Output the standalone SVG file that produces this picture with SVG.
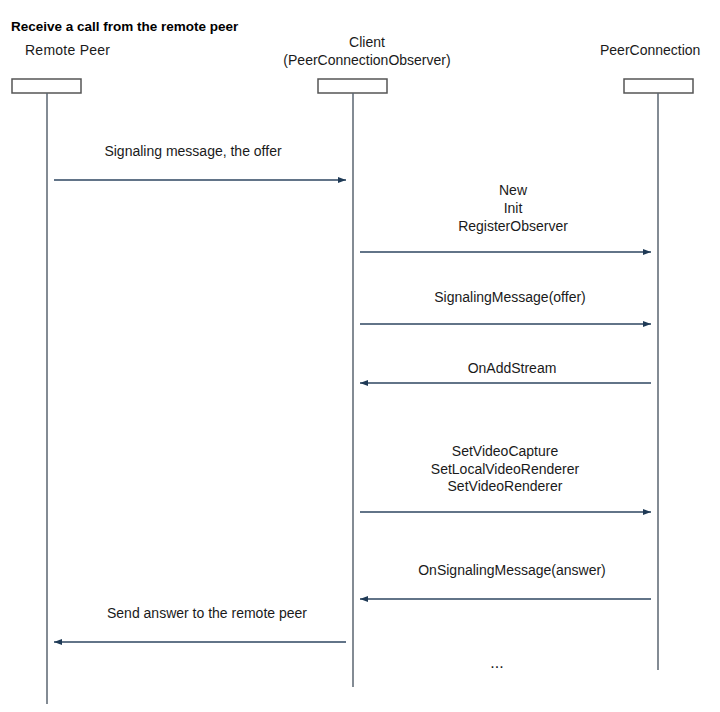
<svg xmlns="http://www.w3.org/2000/svg" width="720" height="712" viewBox="0 0 720 712">
<style>
text{font-family:"Liberation Sans",Arial,sans-serif;font-size:14px;fill:#1a1a1a}
.t{font-weight:bold;font-size:13.5px;fill:#000}
.m{text-anchor:middle}
.box{fill:#fff;stroke:#555;stroke-width:1.5}
.life{stroke:#5a6470;stroke-width:1.5}
.msg{stroke:#2e4660;stroke-width:1.3;fill:none}
</style>
<defs>
<marker id="ah" viewBox="0 0 8 6" refX="8" refY="3" markerWidth="8" markerHeight="6" markerUnits="userSpaceOnUse" orient="auto">
<path d="M0,0 L8,3 L0,6 z" fill="#1f3a56"/>
</marker>
</defs>
<rect width="720" height="712" fill="#fff"/>
<text class="t" x="11" y="31">Receive a call from the remote peer</text>
<g id="remote">
<text x="25" y="55" textLength="85">Remote Peer</text>
<rect class="box" x="12" y="79" width="69" height="14"/>
<line class="life" x1="47" y1="93" x2="47" y2="704"/>
</g>
<g id="client">
<text class="m" x="367" y="47">Client</text>
<text class="m" x="367" y="65">(PeerConnectionObserver)</text>
<rect class="box" x="318" y="79" width="69" height="14"/>
<line class="life" x1="353" y1="93" x2="353" y2="687"/>
</g>
<g id="pc">
<text x="600" y="55">PeerConnection</text>
<rect class="box" x="624" y="79" width="69" height="14"/>
<line class="life" x1="658" y1="93" x2="658" y2="670"/>
</g>
<g id="connectors">
<line class="msg" x1="54" y1="180" x2="346" y2="180" marker-end="url(#ah)"/>
<line class="msg" x1="360" y1="252" x2="651" y2="252" marker-end="url(#ah)"/>
<line class="msg" x1="360" y1="324" x2="651" y2="324" marker-end="url(#ah)"/>
<line class="msg" x1="651" y1="383" x2="360" y2="383" marker-end="url(#ah)"/>
<line class="msg" x1="360" y1="512" x2="651" y2="512" marker-end="url(#ah)"/>
<line class="msg" x1="651" y1="599" x2="360" y2="599" marker-end="url(#ah)"/>
<line class="msg" x1="346" y1="642" x2="54" y2="642" marker-end="url(#ah)"/>
</g>
<g id="labels">
<text class="m" x="193" y="156">Signaling message, the offer</text>
<text class="m" x="513" y="195">New</text>
<text class="m" x="513" y="213">Init</text>
<text class="m" x="513" y="231">RegisterObserver</text>
<text class="m" x="510" y="302">SignalingMessage(offer)</text>
<text class="m" x="512" y="373">OnAddStream</text>
<text class="m" x="505" y="456">SetVideoCapture</text>
<text class="m" x="505" y="474">SetLocalVideoRenderer</text>
<text class="m" x="505" y="491">SetVideoRenderer</text>
<text class="m" x="512" y="575">OnSignalingMessage(answer)</text>
<text class="m" x="207" y="618">Send answer to the remote peer</text>
<text class="m" x="497" y="668" style="font-size:16px">...</text>
</g>
</svg>
